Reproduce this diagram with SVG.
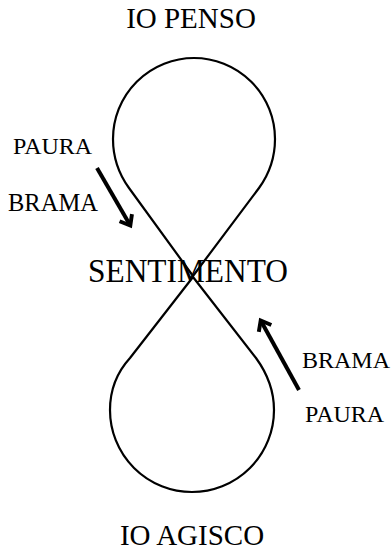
<svg xmlns="http://www.w3.org/2000/svg" width="391" height="552" viewBox="0 0 391 552">
<style>
.t{font-family:"Liberation Serif","Times New Roman",serif;fill:#000}
.curve{fill:none;stroke:#000;stroke-width:2.2;stroke-linejoin:round}
.arr{fill:none;stroke:#000;stroke-width:4}
</style>
<defs>
<marker id="ah" viewBox="0 0 10 12" refX="7.5" refY="6" markerWidth="3.25" markerHeight="3.9" markerUnits="strokeWidth" orient="auto" overflow="visible">
<path d="M1,0.5 L8,6 L1,11.5" fill="none" stroke="#000" stroke-width="3"/>
</marker>
</defs>
<rect width="391" height="552" fill="#fff"/>
<g id="connectors">
<path id="top-loop" class="curve" d="M193,276 L129,188 C121,177 113,160 113,139 A81,81 0 1 1 275,139 C275,160 267,177 259,188 Z"/>
<path id="bottom-loop" class="curve" d="M193,277 L256,358 C264,369 274,387 274,410 A82,82 0 1 1 110,410 C110,387 120,369 130,358 Z"/>
<line class="arr" x1="97" y1="168" x2="130" y2="225" marker-end="url(#ah)"/>
<line class="arr" x1="299" y1="390" x2="261" y2="321" marker-end="url(#ah)"/>
</g>
<g id="io-penso"><text class="t" x="191" y="28" font-size="29" text-anchor="middle">IO PENSO</text></g>
<g id="paura-top"><text class="t" x="13" y="154" font-size="24">PAURA</text></g>
<g id="brama-top"><text class="t" x="8" y="211" font-size="24.5">BRAMA</text></g>
<g id="sentimento"><text class="t" x="188" y="282" font-size="33" text-anchor="middle" textLength="200" lengthAdjust="spacingAndGlyphs">SENTIMENTO</text></g>
<g id="brama-bottom"><text class="t" x="302" y="368" font-size="24">BRAMA</text></g>
<g id="paura-bottom"><text class="t" x="305" y="422" font-size="24">PAURA</text></g>
<g id="io-agisco"><text class="t" x="192" y="545" font-size="29" text-anchor="middle">IO AGISCO</text></g>
</svg>
